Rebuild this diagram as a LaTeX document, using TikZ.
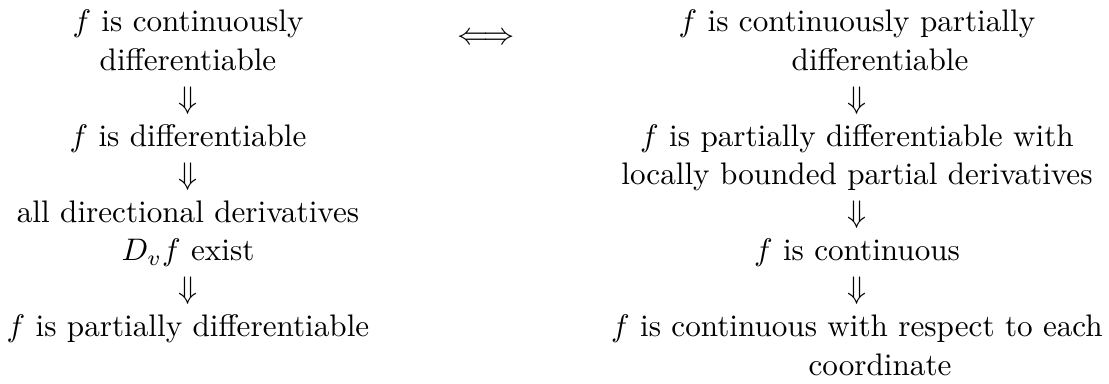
\documentclass[tikz,border=0pt]{standalone}
\usepackage{amsmath}
\usepackage{amssymb}
\usepackage{tikz}
\usetikzlibrary{positioning}

% second line of some right-hand statements sits a bit to the right
\newcommand{\indentline}{\hspace*{14.8pt}}

\begin{document}
\begin{tikzpicture}[
    stmt/.style={align=center, inner sep=0pt, anchor=base, font=\fontsize{10pt}{12.23pt}\selectfont},
    impl/.style={inner sep=0pt, anchor=base},
    x=1pt, y=1pt
]
    \useasboundingbox (0,0) rectangle (356,-122.95);

    % ============ Left column ============
    % (base anchor of a two-line node sits on its last line)
    \node[stmt] (contdiff) at (60.35,-22.5) {$f$ is continuously\\differentiable};
    \node[impl] (limp1) at (60.35,-34.8) {$\Downarrow$};
    \node[stmt] (diffble) at (60.35,-47.0) {$f$ is differentiable};
    \node[impl] (limp2) at (60.35,-59.2) {$\Downarrow$};
    \node[stmt] (alldir) at (60.35,-83.7) {all directional derivatives\\$D_vf$ exist};
    \node[impl] (limp3) at (60.35,-95.9) {$\Downarrow$};
    \node[stmt] (partdiff) at (60.35,-108.1) {$f$ is partially differentiable};

    % ============ Equivalence ============
    \node[inner sep=0pt] (equiv) at (156,-12.5) {$\Longleftrightarrow$};

    % ============ Right column ============
    \node[stmt] (contpart) at (275.1,-22.5) {$f$ is continuously partially\\\indentline differentiable};
    \node[impl] (rimp1) at (275.1,-34.8) {$\Downarrow$};
    \node[stmt] (partbound) at (275.1,-59.2) {$f$ is partially differentiable with\\locally bounded partial derivatives};
    \node[impl] (rimp2) at (275.1,-71.5) {$\Downarrow$};
    \node[stmt] (cont) at (275.1,-83.7) {$f$ is continuous};
    \node[impl] (rimp3) at (275.1,-95.9) {$\Downarrow$};
    \node[stmt] (contcoord) at (275.1,-120.4) {$f$ is continuous with respect to each\\\indentline coordinate};
\end{tikzpicture}
\end{document}
